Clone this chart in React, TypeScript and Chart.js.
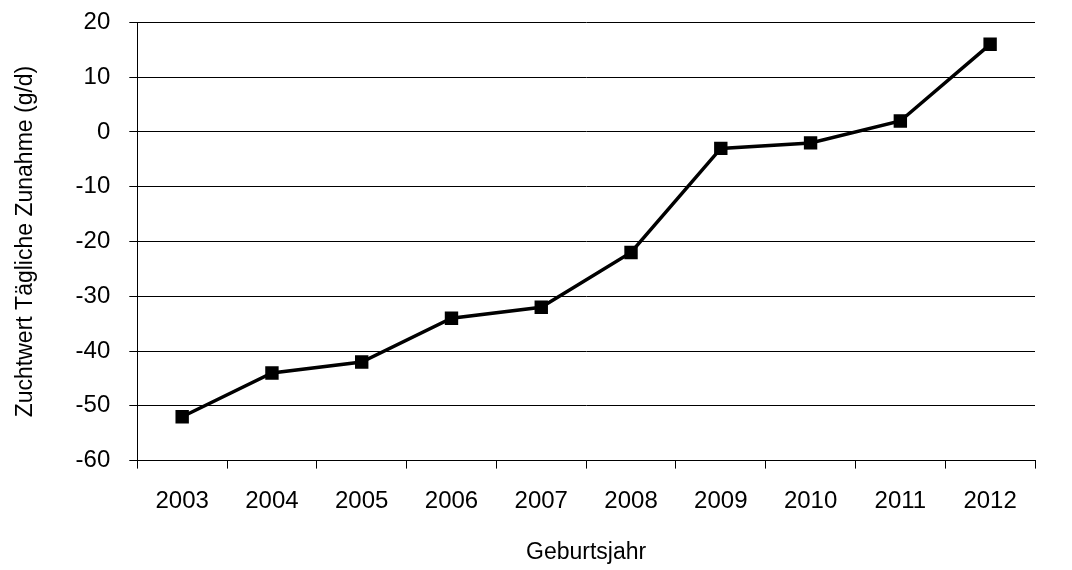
import React, { useEffect, useRef } from "react";
import { Chart, registerables } from "chart.js";
Chart.register(...registerables);

const years = ["2003","2004","2005","2006","2007","2008","2009","2010","2011","2012"];
const values = [-52,-44,-42,-34,-32,-22,-3,-2,2,16];

export default function App() {
  const ref = useRef<HTMLCanvasElement>(null);
  useEffect(() => {
    const font = { family: "Liberation Sans, sans-serif", size: 24 };
    const c = new Chart(ref.current!, {
      type: "line",
      data: { labels: years, datasets: [{ data: values, borderColor: "#000", backgroundColor: "#000", borderWidth: 3.5, pointStyle: "rect", pointRadius: 7, tension: 0 }] },
      options: {
        animation: false, responsive: false,
        layout: { padding: { top: 0, right: 37, left: 8, bottom: 0 } },
        plugins: { legend: { display: false }, tooltip: { enabled: false } },
        scales: {
          x: {
            offset: true,
            grid: { display: true, drawOnChartArea: false, offset: true, color: "#000", tickLength: 8 },
            border: { color: "#000" },
            ticks: { color: "#000", font, padding: 18, maxRotation: 0 },
            title: { display: true, text: "Geburtsjahr", color: "#000", font: { ...font, size: 23 }, padding: { top: 5 } },
          },
          y: {
            min: -60, max: 20,
            ticks: { stepSize: 10, color: "#000", font, padding: 19 },
            grid: { color: "#000", tickLength: 8 },
            border: { color: "#000" },
            title: { display: true, text: "Zuchtwert Tägliche Zunahme (g/d)", color: "#000", font: { ...font, size: 23 }, padding: { bottom: 17 } },
          },
        },
      },
    });
    return () => c.destroy();
  }, []);
  return <div style={{ position: "absolute", left: 0, top: -11, overflow: "hidden" }}><canvas ref={ref} width={1072} height={581} /></div>;
}
